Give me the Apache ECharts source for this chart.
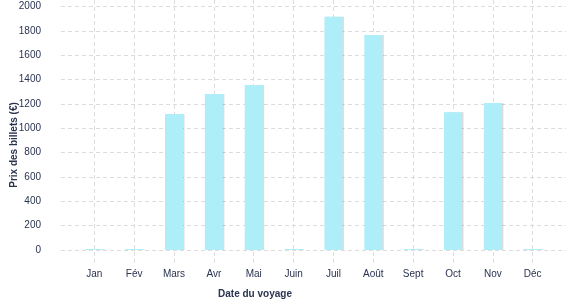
<!DOCTYPE html>
<html><head><meta charset="utf-8">
<script src="https://cdn.jsdelivr.net/npm/echarts@6/dist/echarts.min.js"></script>
<style>html,body{margin:0;padding:0;background:#fff}#c{width:577px;height:300px}</style>
</head><body><div id="c"></div>
<script>
const categories = ['Jan','Fév','Mars','Avr','Mai','Juin','Juil','Août','Sept','Oct','Nov','Déc'];
const prices = [8, 8, 1117, 1281, 1355, 8, 1916, 1766, 8, 1131, 1207, 8];
const yMin = 0, yMax = 2000, yStep = 200;
const xTitle = 'Date du voyage';
const yTitle = 'Prix des billets (€)';

const txt = '#2a3350';
const font = '"Liberation Sans", Arial, sans-serif';
const gridCol = '#dcdcdc';
const chart = echarts.init(document.getElementById('c'));
chart.setOption({
  animation: false,
  grid: [
    {left: 94.3, right: 44.3, top: 6.5, bottom: 50},
    {left: 61, right: 11, top: 6.5, bottom: 50},
    {left: 94.3, right: 44.3, top: 0, bottom: 35}
  ],
  xAxis: [
    {gridIndex: 0, type: 'category', data: categories, boundaryGap: false,
     axisLine: {show: false}, axisTick: {show: false}, splitLine: {show: false},
     axisLabel: {color: txt, fontSize: 10, fontFamily: font, margin: 19}},
    {gridIndex: 1, type: 'value', show: false},
    {gridIndex: 2, type: 'category', data: categories, boundaryGap: false,
     axisLine: {show: false}, axisTick: {show: false}, axisLabel: {show: false},
     splitLine: {show: true, lineStyle: {color: gridCol, type: [4, 3], width: 1}}}
  ],
  yAxis: [
    {gridIndex: 0, type: 'value', min: yMin, max: yMax, interval: yStep, show: false, splitLine: {show: false}},
    {gridIndex: 1, type: 'value', min: yMin, max: yMax, interval: yStep,
     axisLine: {show: false}, axisTick: {show: false},
     axisLabel: {color: txt, fontSize: 10, fontFamily: font, margin: 20, formatter: v => String(v)},
     splitLine: {show: true, lineStyle: {color: gridCol, type: [4, 3], width: 1}}},
    {gridIndex: 2, type: 'value', show: false, splitLine: {show: false}}
  ],
  series: [{
    type: 'bar', xAxisIndex: 0, yAxisIndex: 0, data: prices, barWidth: 18,
    itemStyle: {color: '#aeeef8', shadowColor: 'rgba(0,0,0,0.14)', shadowOffsetX: 1.5, shadowOffsetY: 0, shadowBlur: 0}
  }],
  graphic: [
    {type: 'text', x: 255, y: 294, style: {text: xTitle, fill: txt, font: 'bold 10px ' + font, align: 'center', verticalAlign: 'middle'}},
    {type: 'text', x: 14, y: 145, rotation: Math.PI / 2, style: {text: yTitle, fill: txt, font: 'bold 10px ' + font, align: 'center', verticalAlign: 'middle'}}
  ]
});
</script></body></html>
